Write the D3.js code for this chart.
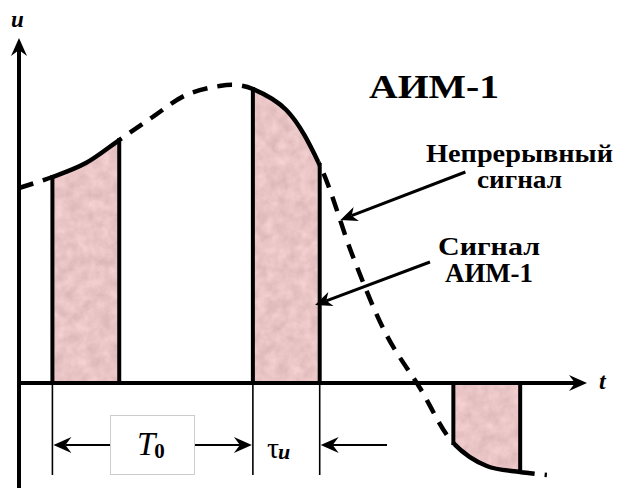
<!DOCTYPE html>
<html><head><meta charset="utf-8">
<script src="https://cdn.jsdelivr.net/npm/d3@7"></script>
<style>body{margin:0;background:#fff}svg{display:block}</style>
</head><body>
<script>
// Continuous signal samples (time units: T0 = 3, tau = 1)
const signalT = [0, 0.5, 1.0, 1.5, 2.0, 2.5, 3.0, 3.25, 3.5, 4.0, 4.5, 5.0, 5.5, 6.0, 6.5, 7.0, 7.5, 7.9];
const signalU = [1.95, 2.06, 2.20, 2.43, 2.66, 2.88, 2.97, 2.98, 2.94, 2.73, 2.18, 1.26, 0.48, -0.05, -0.60, -0.83, -0.89, -0.92];
// Sampling pulses
const pulseStarts = [0.5, 3.5, 6.5];
const pulseWidth = 1;
// Labels
const title = "АИМ-1";
const labelContinuous = ["Непрерывный", "сигнал"];
const labelPam = ["Сигнал", "АИМ-1"];

const W = 621, H = 488;
const x = d3.scaleLinear().domain([0, 8.5]).range([19, 587]);
const y = d3.scaleLinear().domain([-1, 3.45]).range([483, 38]);
const data = signalT.map((t, i) => ({t, u: signalU[i]}));
const uAt = t => signalU[signalT.indexOf(t)];

const svg = d3.select("body").append("svg").attr("width", W).attr("height", H);
const defs = svg.append("defs");
const f = defs.append("filter").attr("id", "tex").attr("color-interpolation-filters", "sRGB")
  .attr("x", "-5%").attr("y", "-5%").attr("width", "110%").attr("height", "110%");
f.append("feTurbulence").attr("type", "fractalNoise").attr("baseFrequency", 0.09).attr("numOctaves", 3).attr("seed", 4).attr("result", "n");
f.append("feColorMatrix").attr("in", "n").attr("type", "matrix")
  .attr("values", "0.15 0 0 0 0.84  0.15 0 0 0 0.695  0.15 0 0 0 0.70  0 0 0 0 1").attr("result", "c");
f.append("feComposite").attr("in", "c").attr("in2", "SourceGraphic").attr("operator", "in");

const curve = d3.curveCatmullRom.alpha(0.5);
const line = d3.line().x(d => x(d.t)).y(d => y(d.u)).curve(curve);
const area = d3.area().x(d => x(d.t)).y0(y(0)).y1(d => y(d.u)).curve(curve);

// Continuous dashed signal
svg.append("path").attr("d", line(data)).attr("fill", "none").attr("stroke", "#000")
  .attr("stroke-width", 4.5).attr("stroke-dasharray", "15,10");

// Pulses
pulseStarts.forEach((s, i) => {
  const id = "clip" + i;
  const x0 = x(s), x1 = x(s + pulseWidth);
  defs.append("clipPath").attr("id", id).append("rect")
    .attr("x", x0).attr("y", 0).attr("width", x1 - x0).attr("height", H);
  const g = svg.append("g").attr("clip-path", `url(#${id})`);
  g.append("rect").attr("x", x0).attr("y", 0).attr("width", x1 - x0).attr("height", H).attr("fill", "#fff");
  g.append("path").attr("d", area(data)).attr("fill", "#e8c4c4").attr("filter", "url(#tex)");
  g.append("path").attr("d", line(data)).attr("fill", "none").attr("stroke", "#000").attr("stroke-width", 4.5);
  [s, s + pulseWidth].forEach(t => {
    svg.append("line").attr("x1", x(t)).attr("x2", x(t)).attr("y1", y(0)).attr("y2", y(uAt(t)))
      .attr("stroke", "#000").attr("stroke-width", 4).attr("stroke-linecap", "square");
  });
});

// Axes
svg.append("line").attr("x1", x(0)).attr("x2", x(0)).attr("y1", H).attr("y2", y(3.45) + 6)
  .attr("stroke", "#000").attr("stroke-width", 4);
svg.append("line").attr("x1", x(0)).attr("x2", x(8.5) - 6).attr("y1", y(0)).attr("y2", y(0))
  .attr("stroke", "#000").attr("stroke-width", 4);

function head(tx, ty, ang, len, half, notch) {
  const c = Math.cos(ang), s = Math.sin(ang);
  const p = (a, b) => [tx - a * c + b * s, ty - a * s - b * c];
  const pts = [[tx, ty], p(len, half), p(len - notch, 0), p(len, -half)];
  svg.append("path").attr("d", "M" + pts.map(q => q.join(",")).join("L") + "Z").attr("fill", "#000");
}
function arrow(x1, y1, x2, y2, w, len, half, notch) {
  const ang = Math.atan2(y2 - y1, x2 - x1);
  svg.append("line").attr("x1", x1).attr("y1", y1)
    .attr("x2", x2 - Math.cos(ang) * (len - notch)).attr("y2", y2 - Math.sin(ang) * (len - notch))
    .attr("stroke", "#000").attr("stroke-width", w);
  head(x2, y2, ang, len, half, notch);
}
head(x(0), y(3.45), -Math.PI / 2, 18, 8, 6);
head(x(8.5), y(0), 0, 18, 8, 6);

// Axis labels
const serif = "'Liberation Serif','Times New Roman',serif";
svg.append("text").attr("x", 11).attr("y", 27).text("u")
  .attr("font-family", serif).attr("font-style", "italic").attr("font-weight", "bold").attr("font-size", 23);
svg.append("text").attr("x", 599).attr("y", 389).text("t")
  .attr("font-family", serif).attr("font-style", "italic").attr("font-weight", "bold").attr("font-size", 24);

// Dimension lines
[pulseStarts[0], pulseStarts[1], pulseStarts[1] + pulseWidth].forEach(t => {
  svg.append("line").attr("x1", x(t)).attr("x2", x(t)).attr("y1", y(0) + 2).attr("y2", 475)
    .attr("stroke", "#000").attr("stroke-width", 1.6);
});
const dimY = 445;
arrow((x(pulseStarts[0]) + x(pulseStarts[1])) / 2, dimY, x(pulseStarts[0]) + 1, dimY, 2.2, 18, 8, 6);
arrow((x(pulseStarts[0]) + x(pulseStarts[1])) / 2, dimY, x(pulseStarts[1]) - 1, dimY, 2.2, 18, 8, 6);
arrow(387, dimY, x(pulseStarts[1] + pulseWidth) + 1, dimY, 2.2, 18, 8, 6);
svg.append("rect").attr("x", 110.5).attr("y", 415.5).attr("width", 84).attr("height", 59)
  .attr("fill", "#fff").attr("stroke", "#ccc").attr("stroke-width", 1);
const tT = svg.append("text").attr("x", 137).attr("y", 455).attr("font-family", serif);
tT.append("tspan").text("T").attr("font-style", "italic").attr("font-size", 33);
tT.append("tspan").text("0").attr("font-weight", "bold").attr("font-size", 21).attr("dy", 3).attr("dx", -1);
const tTau = svg.append("text").attr("x", 267).attr("y", 458).attr("font-family", serif);
tTau.append("tspan").text("τ").attr("font-size", 30);
tTau.append("tspan").text("u").attr("font-style", "italic").attr("font-weight", "bold").attr("font-size", 22).attr("dy", 1).attr("dx", -1);

// Titles / annotations
function label(txt, xx, yy, size, len) {
  svg.append("text").attr("x", xx).attr("y", yy).text(txt).attr("font-family", serif)
    .attr("font-weight", "bold").attr("font-size", size)
    .attr("textLength", len).attr("lengthAdjust", "spacingAndGlyphs");
}
label(title, 369, 98, 33, 130);
label(labelContinuous[0], 426, 162, 25, 187);
label(labelContinuous[1], 477, 188, 25, 85);
label(labelPam[0], 438, 255, 26, 102);
label(labelPam[1], 445, 282, 27, 88);

// Pointer arrows (in data coordinates)
arrow(x(6.68), y(2.11), x(4.81), y(1.63), 3, 17, 7.5, 5);
arrow(x(6.15), y(1.21), x(4.43), y(0.78), 3, 17, 7.5, 5);
</script>
</body></html>
